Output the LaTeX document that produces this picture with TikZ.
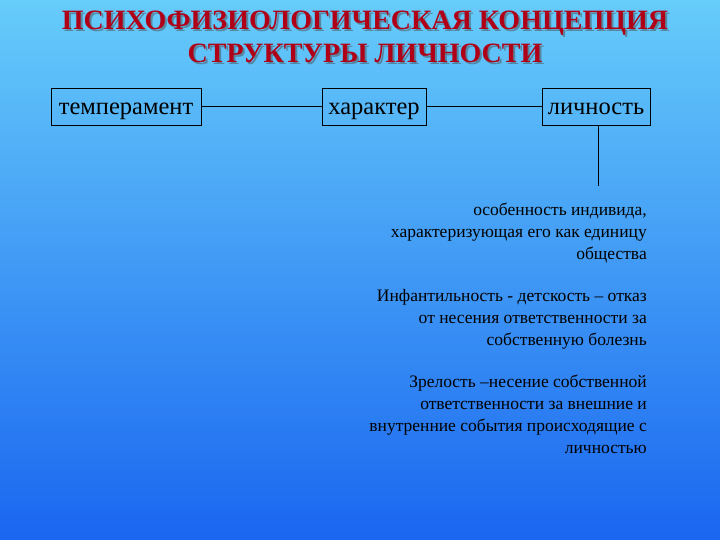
\documentclass[tikz,border=0pt]{standalone}
\usepackage{fontspec}
\setmainfont{Liberation Serif}
\begin{document}
\begin{tikzpicture}[x=1pt,y=-1pt,
  box/.style={draw=black,line width=0.8pt,minimum height=37pt,inner xsep=0pt,inner ysep=0pt,text height=18pt,text depth=2pt,font=\fontsize{24.5}{26}\selectfont},
  para/.style={anchor=north east,align=right,font=\fontsize{17.5}{22}\selectfont,inner sep=0pt},
  ttl/.style={font=\bfseries\fontsize{28}{30}\selectfont}]
\definecolor{topc}{HTML}{66CCFA}
\definecolor{botc}{HTML}{1A66F0}
\definecolor{ttlred}{HTML}{B00018}
\shade[top color=topc,bottom color=botc] (0,0) rectangle (720,540);
\useasboundingbox (0,0) rectangle (720,540);
\node[ttl,text=black!70,opacity=0.5] at (367,25) {ПСИХОФИЗИОЛОГИЧЕСКАЯ КОНЦЕПЦИЯ};
\node[ttl,text=ttlred] (t1) at (365,23) {ПСИХОФИЗИОЛОГИЧЕСКАЯ КОНЦЕПЦИЯ};
\node[ttl,text=black!70,opacity=0.5] at (367,55) {СТРУКТУРЫ ЛИЧНОСТИ};
\node[ttl,text=ttlred] (t2) at (365,53) {СТРУКТУРЫ ЛИЧНОСТИ};
\node[box,minimum width=150pt] (a) at (126,106.5) {темперамент};
\node[box,minimum width=104pt] (b) at (374,106.5) {характер};
\node[box,minimum width=108pt] (c) at (596,106.5) {личность};
\draw (a) -- (b);
\draw (b) -- (c);
\coordinate (e) at (598,186);
\draw (c.south -| e) -- (e);
\node[para] (p1) at (647,203) {особенность индивида,\\характеризующая его как единицу\\общества};
\node[para] (p2) at (647,289) {Инфантильность - детскость – отказ\\от несения ответственности за\\собственную болезнь};
\node[para] (p3) at (647,375) {Зрелость –несение собственной\\ответственности за внешние и\\внутренние события происходящие с\\личностью};
\end{tikzpicture}
\end{document}
